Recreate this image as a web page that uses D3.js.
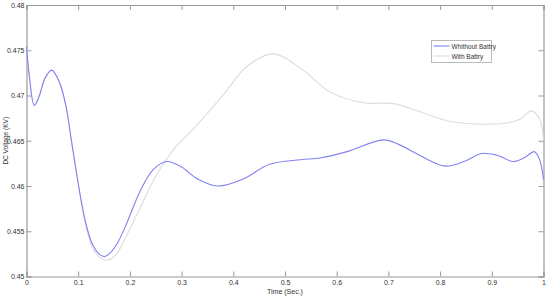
<!DOCTYPE html>
<html>
<head>
<meta charset="utf-8">
<script src="https://cdn.jsdelivr.net/npm/d3@7"></script>
<style>
  html, body { margin: 0; padding: 0; background: #fff; }
  svg text { font-family: "Liberation Sans", Arial, sans-serif; fill: #333; }
  .axis path, .axis line { stroke: #9a9a9a; }
</style>
</head>
<body>
<div id="chart"></div>
<script>
// time (s) and DC voltage (kV)
const timeWithout = [0, 0.005, 0.0151, 0.025, 0.035, 0.0487, 0.0635, 0.0764, 0.0861, 0.0957, 0.1054, 0.115, 0.128, 0.14, 0.1505, 0.162, 0.176, 0.1925, 0.2195, 0.245, 0.271, 0.3, 0.33, 0.37, 0.42, 0.47, 0.53, 0.568, 0.62, 0.69, 0.72, 0.76, 0.81, 0.85, 0.88, 0.91, 0.942, 0.965, 0.982, 0.992, 1.0];
const voltWithout = [0.4754, 0.4724, 0.4689, 0.4700, 0.4718, 0.4728, 0.4715, 0.4688, 0.4653, 0.4618, 0.4585, 0.4558, 0.4535, 0.4525, 0.4522, 0.4526, 0.4537, 0.4557, 0.4594, 0.4618, 0.4627, 0.4621, 0.4608, 0.4600, 0.4608, 0.4624, 0.4629, 0.4631, 0.4638, 0.4651, 0.4646, 0.4634, 0.4622, 0.4628, 0.4636, 0.4634, 0.4627, 0.4632, 0.4638, 0.4630, 0.4607];

const timeWith = [0, 0.005, 0.0151, 0.025, 0.035, 0.0487, 0.0635, 0.0764, 0.0861, 0.0957, 0.1054, 0.115, 0.128, 0.142, 0.155, 0.168, 0.18, 0.1925, 0.22, 0.249, 0.284, 0.329, 0.381, 0.426, 0.477, 0.535, 0.587, 0.651, 0.71, 0.761, 0.822, 0.922, 0.955, 0.977, 0.993, 1.0];
const voltWith = [0.4754, 0.4724, 0.4689, 0.4700, 0.4718, 0.4728, 0.4715, 0.4688, 0.4653, 0.4618, 0.4584, 0.4556, 0.4531, 0.4521, 0.4518, 0.4521, 0.4530, 0.4544, 0.4576, 0.4610, 0.4640, 0.4667, 0.4701, 0.4732, 0.4746, 0.4728, 0.4704, 0.4692, 0.4691, 0.4682, 0.4671, 0.4669, 0.4674, 0.4683, 0.4673, 0.4651];

const xTicks = [0, 0.1, 0.2, 0.3, 0.4, 0.5, 0.6, 0.7, 0.8, 0.9, 1];
const yTicks = [0.45, 0.455, 0.46, 0.465, 0.47, 0.475, 0.48];
const seriesNames = ['Whithout Battry', 'With Battry'];
const seriesColors = ['#8282f2', '#dcdce2'];

const width = 550, height = 297;
const margin = {top: 5, right: 6.5, bottom: 20.5, left: 26.5};
const w = width - margin.left - margin.right;
const h = height - margin.top - margin.bottom;

const x = d3.scaleLinear().domain([0, 1]).range([0, w]);
const y = d3.scaleLinear().domain([0.45, 0.48]).range([h, 0]);

const svg = d3.select('#chart').append('svg')
  .attr('width', width)
  .attr('height', height)
  .append('g')
  .attr('transform', 'translate(' + margin.left + ',' + margin.top + ')');

const fmt = d => String(+d.toFixed(3));

// bottom + top
svg.append('g').attr('class', 'axis')
  .attr('transform', 'translate(0,' + h + ')')
  .call(d3.axisBottom(x).tickValues(xTicks).tickSize(-5).tickPadding(4).tickFormat(fmt))
  .call(g => g.selectAll('text').attr('font-size', 7));
svg.append('g').attr('class', 'axis')
  .call(d3.axisTop(x).tickValues(xTicks).tickSize(-5).tickFormat(''));

// left + right
svg.append('g').attr('class', 'axis')
  .call(d3.axisLeft(y).tickValues(yTicks).tickSize(-5).tickPadding(2).tickFormat(fmt))
  .call(g => g.selectAll('text').attr('font-size', 7));
svg.append('g').attr('class', 'axis')
  .attr('transform', 'translate(' + w + ',0)')
  .call(d3.axisRight(y).tickValues(yTicks).tickSize(-5).tickFormat(''));

svg.selectAll('.axis path').attr('stroke-width', 1.2);

const line = d3.line()
  .x(d => x(d[0]))
  .y(d => y(d[1]))
  .curve(d3.curveCatmullRom.alpha(0.5));

const series = [
  d3.zip(timeWith, voltWith),
  d3.zip(timeWithout, voltWithout)
];
const colorOrder = [seriesColors[1], seriesColors[0]];

svg.selectAll('.line')
  .data(series)
  .enter().append('path')
  .attr('class', 'line')
  .attr('fill', 'none')
  .attr('stroke', (d, i) => colorOrder[i])
  .attr('stroke-width', 1.1)
  .attr('d', line);

// axis labels
svg.append('text')
  .attr('x', w / 2)
  .attr('y', h + 17)
  .attr('text-anchor', 'middle')
  .attr('font-size', 7)
  .text('Time (Sec.)');

svg.append('text')
  .attr('transform', 'translate(' + (-18.5) + ',' + (h / 2) + ') rotate(-90)')
  .attr('text-anchor', 'middle')
  .attr('font-size', 6.5)
  .text('DC Voltage (KV)');

// legend
const legend = svg.append('g')
  .attr('transform', 'translate(' + (431.5 - margin.left) + ',' + (40.5 - margin.top) + ')');
legend.append('rect')
  .attr('width', 60)
  .attr('height', 22)
  .attr('fill', '#fff')
  .attr('stroke', '#aaa')
  .attr('stroke-width', 0.8);
seriesNames.forEach((name, i) => {
  legend.append('line')
    .attr('x1', 2).attr('x2', 18)
    .attr('y1', 5.5 + i * 10).attr('y2', 5.5 + i * 10)
    .attr('stroke', seriesColors[i])
    .attr('stroke-width', 1.1);
  legend.append('text')
    .attr('x', 20)
    .attr('y', 8 + i * 10)
    .attr('font-size', 6.5)
    .text(name);
});
</script>
</body>
</html>
